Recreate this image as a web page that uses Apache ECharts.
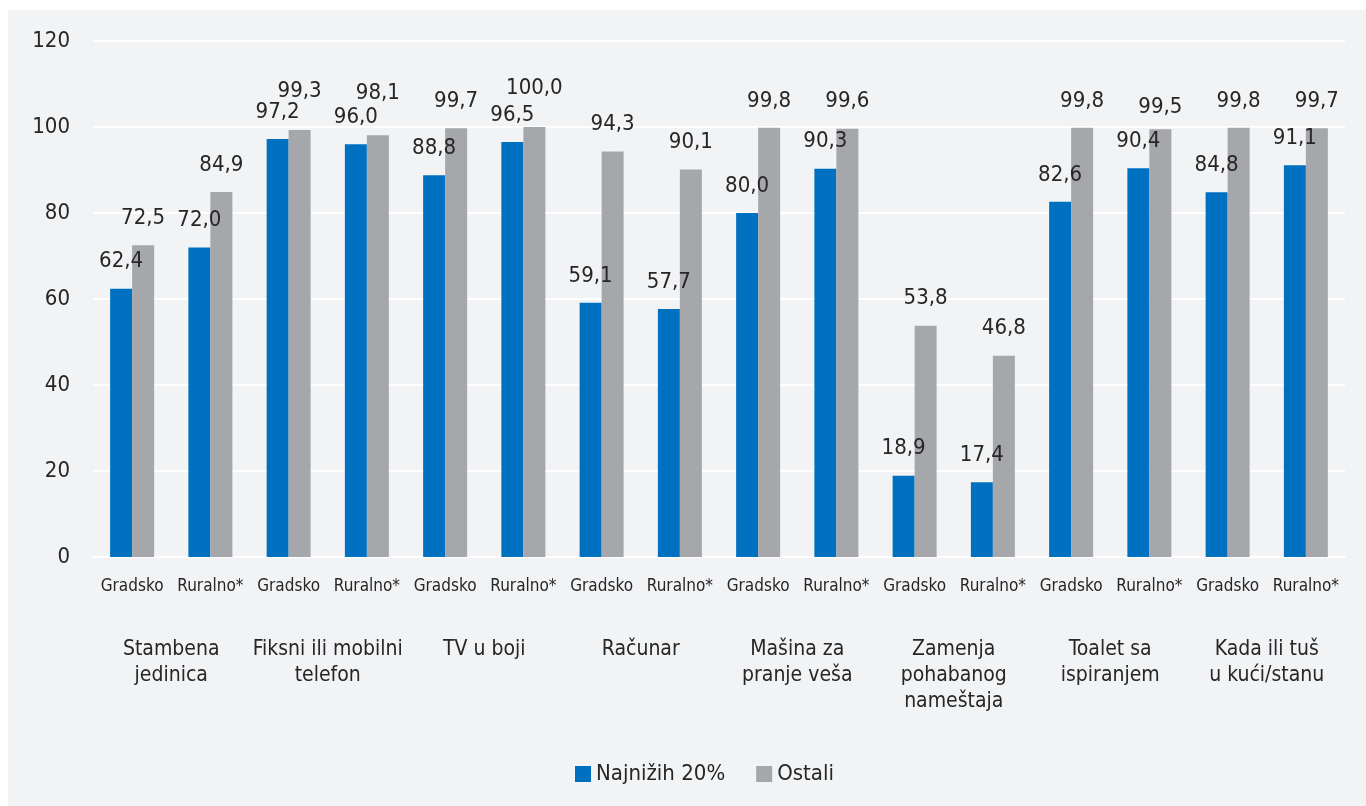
<!DOCTYPE html>
<html>
<head>
<meta charset="utf-8">
<script src="https://cdn.jsdelivr.net/npm/echarts@6/dist/echarts.min.js"></script>
<style>
  html, body { margin: 0; padding: 0; background: #ffffff; }
  #panel { position: absolute; left: 8px; top: 10px; right: 0; bottom: 0; background: #f2f3f5; }
  #chart { position: absolute; left: 0; top: 0; width: 1366px; height: 806px; }
</style>
</head>
<body>
<div id="panel"></div>
<div id="chart"></div>
<script>
// podaci sa grafikona
const podkategorije = ['Gradsko', 'Ruralno*', 'Gradsko', 'Ruralno*', 'Gradsko', 'Ruralno*', 'Gradsko', 'Ruralno*',
    'Gradsko', 'Ruralno*', 'Gradsko', 'Ruralno*', 'Gradsko', 'Ruralno*', 'Gradsko', 'Ruralno*'];
const grupe = ['Stambena\njedinica', 'Fiksni ili mobilni\ntelefon', 'TV u boji', 'Računar',
    'Mašina za\npranje veša', 'Zamenja\npohabanog\nnameštaja', 'Toalet sa\nispiranjem', 'Kada ili tuš\nu kući/stanu'];
const najnizih = [62.4, 72.0, 97.2, 96.0, 88.8, 96.5, 59.1, 57.7, 80.0, 90.3, 18.9, 17.4, 82.6, 90.4, 84.8, 91.1];
const ostali = [72.5, 84.9, 99.3, 98.1, 99.7, 100.0, 94.3, 90.1, 99.8, 99.6, 53.8, 46.8, 99.8, 99.5, 99.8, 99.7];
const yTicks = [0, 20, 40, 60, 80, 100, 120];

const font = '"Liberation Sans Narrow", "DejaVu Sans Condensed", "Roboto", sans-serif';
const chart = echarts.init(document.getElementById('chart'));

const fmt = function (p) { return p.value.toFixed(1).replace('.', ','); };

// ručno pomerene etikete (da se ne preklapaju), u pikselima
const pomakOstali = { 2: -12, 3: -15, 5: -12, 13: 5 };

const labelBase = { show: true, position: 'top', distance: 16, formatter: fmt, fontFamily: font, fontSize: 22, color: '#262626' };

chart.setOption({
    backgroundColor: 'transparent',
    textStyle: { fontFamily: font, color: '#262626' },
    grid: { left: 93, right: 21, top: 41, bottom: 249, containLabel: false },
    legend: {
        top: 758,
        left: 570,
        itemWidth: 16,
        itemHeight: 16,
        itemGap: 31,
        icon: 'rect',
        textStyle: { fontFamily: font, fontSize: 22, color: '#262626' },
        data: ['Najnižih 20%', 'Ostali']
    },
    xAxis: [{
        type: 'category',
        data: podkategorije,
        axisLine: { show: true, lineStyle: { color: '#ffffff', width: 2 } },
        axisTick: { show: false },
        axisLabel: { fontFamily: font, fontSize: 17, color: '#262626', margin: 21, interval: 0 }
    }, {
        type: 'category',
        position: 'bottom',
        offset: 72,
        data: grupe,
        axisLine: { show: false },
        axisTick: { show: false },
        axisLabel: { fontFamily: font, fontSize: 21, color: '#262626', lineHeight: 26, interval: 0, verticalAlign: 'top' }
    }],
    yAxis: {
        type: 'value',
        min: yTicks[0],
        max: yTicks[yTicks.length - 1],
        interval: 20,
        axisLine: { show: false },
        axisTick: { show: false },
        splitLine: { lineStyle: { color: '#ffffff', width: 2 } },
        axisLabel: { fontFamily: font, fontSize: 22, color: '#262626', margin: 23 }
    },
    series: [{
        name: 'Najnižih 20%',
        type: 'bar',
        xAxisIndex: 0,
        data: najnizih,
        barWidth: 22,
        barGap: '0%',
        itemStyle: { color: '#0070c0' },
        label: labelBase
    }, {
        name: 'Ostali',
        type: 'bar',
        xAxisIndex: 0,
        data: ostali.map(function (v, i) {
            if (pomakOstali[i] === undefined) return v;
            return { value: v, label: { offset: [0, pomakOstali[i]] } };
        }),
        barWidth: 22,
        barGap: '0%',
        itemStyle: { color: '#a6a7ab' },
        label: labelBase
    }]
});
</script>
</body>
</html>
